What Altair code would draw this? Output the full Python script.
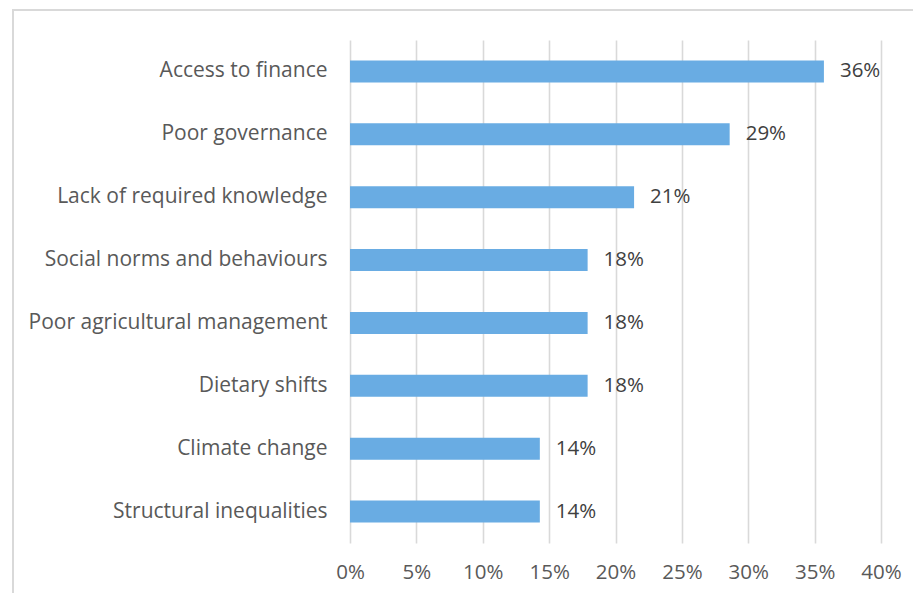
import altair as alt
import pandas as pd

categories = [
    "Access to finance",
    "Poor governance",
    "Lack of required knowledge",
    "Social norms and behaviours",
    "Poor agricultural management",
    "Dietary shifts",
    "Climate change",
    "Structural inequalities",
]
values = [0.357, 0.286, 0.214, 0.179, 0.179, 0.179, 0.143, 0.143]
x_ticks = [0, 0.05, 0.10, 0.15, 0.20, 0.25, 0.30, 0.35, 0.40]

df = pd.DataFrame({"category": categories, "value": values})

FONT = "Open Sans"
GRID = "#d9d9d9"
TEXT = "#595959"
BAR = "#69ace3"

x = alt.X(
    "value:Q",
    scale=alt.Scale(domain=[0, 0.40], nice=False),
    axis=alt.Axis(
        values=x_ticks,
        format=".0%",
        title=None,
        domain=False,
        ticks=False,
        grid=True,
        gridColor=GRID,
        gridWidth=1.6,
        labelFont=FONT,
        labelFontSize=20.5,
        labelColor=TEXT,
        labelPadding=19,
        labelFlush=False,
        labelOverlap=False,
    ),
)
y = alt.Y(
    "category:N",
    sort=categories,
    scale=alt.Scale(paddingInner=0, paddingOuter=0),
    axis=alt.Axis(
        title=None,
        domain=False,
        ticks=False,
        grid=False,
        labelFont=FONT,
        labelFontSize=21,
        labelColor=TEXT,
        labelPadding=23,
        labelLimit=400,
    ),
)

bars = alt.Chart(df).mark_bar(color=BAR, size=22).encode(x=x, y=y)
labels = alt.Chart(df).mark_text(
    align="left", baseline="middle", dx=16, font=FONT, fontSize=20.5, color="#404040"
).encode(x="value:Q", y=alt.Y("category:N", sort=categories), text=alt.Text("value:Q", format=".0%"))

border = alt.Chart(pd.DataFrame({"a": [0]})).mark_rect(
    fillOpacity=0, stroke=GRID, strokeWidth=2
).encode(
    x=alt.value(-337),
    x2=alt.value(620),
    y=alt.value(-30),
    y2=alt.value(620),
)

chart = (
    alt.layer(bars, labels, border)
    .properties(
        width=531,
        height=503,
        autosize=alt.AutoSizeParams(type="none"),
        padding={"left": 342, "top": 32, "right": 32, "bottom": 50},
        background="white",
    )
    .configure_view(stroke=None)
)

chart.save("out.html", embed_options={"renderer": "svg", "actions": False})
